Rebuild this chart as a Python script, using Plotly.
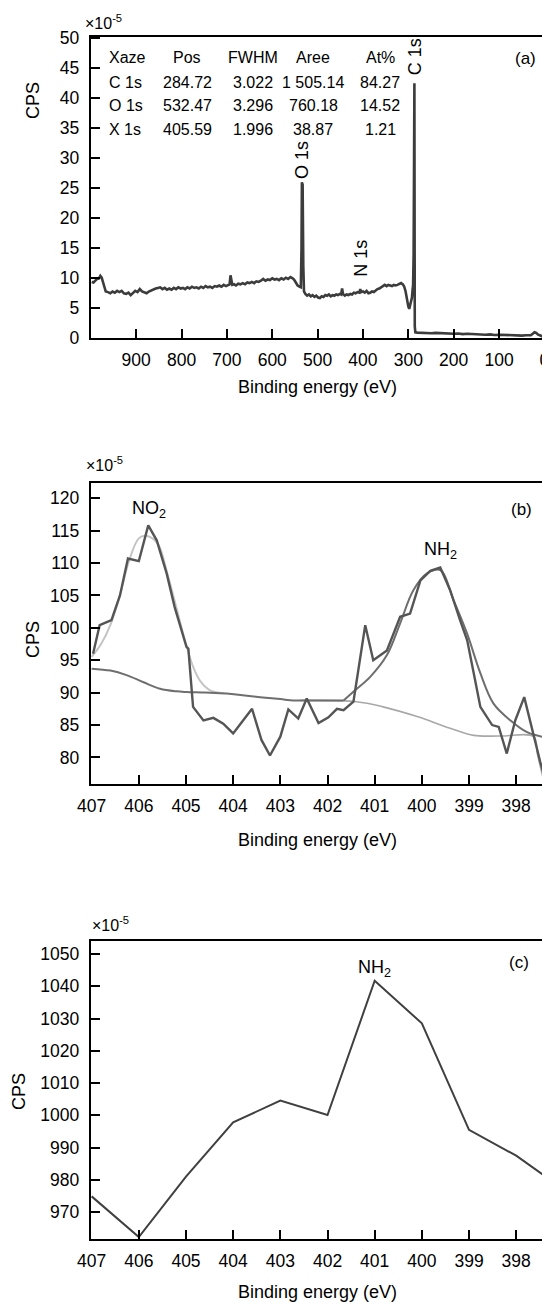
import plotly.graph_objects as go

# page body has an 8px margin: figure drawn from (8, 8) to (550, 1303)
OFF = 8
W, H = 550 - OFF, 1303 - OFF

# ---------------- Panel (a): survey spectrum ----------------
a_energy = [998, 994, 990, 986, 982, 979, 976, 973, 970, 967,
            962, 957, 952, 947, 942, 937, 932, 927, 922, 917, 912, 907, 902, 897, 892, 887, 882, 877,
            872, 867, 862, 857, 852, 847, 842, 837, 832, 827, 822, 817, 812, 807, 802, 797, 792, 787,
            782, 777, 772, 767, 762, 757, 752, 747, 742, 737, 732, 727, 722, 717, 712, 707, 702, 697,
            694, 692, 690, 688, 684, 680, 675, 670, 665, 660, 655, 650, 645, 640, 635, 630, 625, 620,
            615, 610, 605, 600, 595, 590, 585, 580, 575, 570, 565, 560, 555, 552, 548, 544, 540, 537,
            535.5, 534.6, 533, 531.5, 530, 527, 523, 519, 515, 511, 507, 503, 499, 495, 491, 487, 483,
            479, 475, 471, 467, 463, 459, 455, 451, 448, 446, 444, 440, 436, 432, 428, 424, 420, 416,
            412, 408, 406, 404, 400, 396, 392, 388, 384, 380, 376, 372, 368, 364, 360, 356, 352, 348,
            344, 340, 336, 332, 328, 324, 320, 316, 312, 309, 306, 303, 300, 298, 296, 294, 292, 290.5,
            289.5, 288.3, 287.5, 286.6, 285.8, 284.5, 280, 270, 260, 250, 240, 230, 220, 210, 200, 190,
            180, 170, 160, 150, 140, 130, 120, 110, 100, 90, 80, 70, 60, 50, 40, 30, 25, 22, 18, 14,
            10, 5, 1]
a_cps = [9.4, 9.3, 9.6, 9.9, 10.0, 10.4, 10.1, 9.2, 8.2, 7.8,
         7.7, 7.5, 7.8, 7.6, 7.9, 7.7, 7.9, 7.5, 7.4, 7.6, 7.2, 7.5, 7.9, 7.7, 8.2, 7.8, 7.6, 7.5,
         7.8, 8.0, 8.1, 8.3, 8.4, 8.5, 8.2, 8.4, 8.1, 8.3, 8.1, 8.4, 8.2, 8.5, 8.3, 8.4, 8.2, 8.5,
         8.3, 8.6, 8.4, 8.5, 8.3, 8.6, 8.4, 8.7, 8.5, 8.6, 8.4, 8.7, 8.6, 8.8, 8.6, 8.9, 8.7, 8.9,
         9.0, 10.5, 9.6, 8.9, 9.0, 8.8, 9.1, 9.0, 9.2, 9.0, 9.3, 9.2, 9.4, 9.2, 9.5, 9.4, 9.6, 9.9,
         9.6, 9.8, 9.7, 10.0, 9.8, 9.9, 9.7, 10.0, 9.8, 10.1, 9.9, 10.2, 10.0, 9.8, 9.3, 8.8, 8.6, 8.5,
         15.0, 26.0, 25.6, 12.0, 7.8, 7.4, 7.1, 7.3, 7.0, 7.2, 6.9, 7.1, 6.8, 6.7, 7.0, 6.9, 7.2,
         7.1, 7.3, 7.0, 7.2, 7.1, 7.3, 7.2, 7.4, 7.3, 8.3, 7.4, 7.1, 7.3, 7.2, 7.4, 7.3, 7.6, 7.5,
         7.7, 7.6, 8.2, 7.7, 7.8, 7.6, 7.9, 7.5, 7.6, 7.8, 7.7, 8.0, 8.2, 8.3, 8.5, 8.7, 8.9, 8.7,
         8.9, 8.8, 8.7, 8.9, 8.8, 8.9, 9.0, 9.2, 9.0, 8.6, 7.8, 6.4, 5.3, 4.9, 5.4, 6.3, 6.8, 8.2,
         8.8, 14.0, 42.5, 42.5, 2.0, 1.0, 0.95, 0.9, 0.95, 0.85, 0.9, 0.85, 0.8, 0.85, 0.75, 0.8,
         0.7, 0.75, 0.7, 0.65, 0.7, 0.6, 0.65, 0.55, 0.6, 0.55, 0.5, 0.55, 0.5, 0.45, 0.5, 0.5, 0.8, 1.0, 0.9, 0.6,
         0.5, 0.3, 0.2]
a_xticks = [900, 800, 700, 600, 500, 400, 300, 200, 100, 0]
a_yticks = [0, 5, 10, 15, 20, 25, 30, 35, 40, 45, 50]

table_rows = [
    ["Xaze", "Pos", "FWHM", "Aree", "At%"],
    ["C 1s", "284.72", "3.022", "1 505.14", "84.27"],
    ["O 1s", "532.47", "3.296", "760.18", "14.52"],
    ["X 1s", "405.59", "1.996", "38.87", "1.21"],
]

# ---------------- Panel (b): N 1s high resolution ----------------
b_raw_x = [406.97, 406.83, 406.58, 406.4, 406.23, 406.0, 405.8, 405.62, 405.41, 405.24, 404.99, 404.95,
           404.85, 404.63, 404.42, 404.21, 404.0, 403.6, 403.4, 403.22, 403.0, 402.83, 402.62, 402.44,
           402.19, 401.98, 401.8, 401.66, 401.45, 401.2, 401.03, 400.74, 400.46, 400.25, 400.03, 399.82,
           399.61, 399.4, 399.19, 399.04, 398.9, 398.76, 398.51, 398.37, 398.2, 398.02, 397.83, 397.63,
           397.49, 397.42]
b_raw_y = [96.0, 100.4, 101.2, 105.0, 110.7, 110.3, 115.8, 113.5, 108.4, 103.2, 97.05, 96.8,
           87.8, 85.7, 86.1, 85.2, 83.7, 87.5, 82.7, 80.3, 83.2, 87.4, 86.0, 89.1,
           85.3, 86.2, 87.5, 87.3, 88.6, 100.4, 95.0, 96.5, 101.7, 102.2, 107.3, 108.8,
           109.3, 105.8, 101.2, 98.1, 93.0, 87.8, 85.0, 84.7, 80.6, 85.7, 89.3, 83.2,
           79.3, 77.5]
b_no2fit_x = [407.0, 406.8, 406.6, 406.4, 406.2, 406.0, 405.85, 405.6, 405.4, 405.2, 405.0, 404.85,
              404.7, 404.5, 404.2]
b_no2fit_y = [95.5, 97.5, 100.5, 105.0, 110.5, 113.8, 114.2, 113.0, 108.5, 103.0, 97.5, 94.0,
              91.8, 90.4, 89.9]
b_bg_x = [407.0, 406.6, 406.26, 405.9, 405.55, 405.2, 404.99, 404.6, 404.14, 403.8, 403.43, 403.0,
          402.72, 402.44, 402.0, 401.66]
b_bg_y = [93.7, 93.4, 92.7, 91.6, 90.6, 90.2, 90.1, 90.0, 89.85, 89.6, 89.3, 89.0,
          88.8, 88.8, 88.8, 88.8]
b_nh2fit_x = [401.66, 401.41, 401.1, 400.74, 400.46, 400.18, 399.89, 399.61, 399.33, 399.04, 398.76,
              398.48, 398.12, 397.77, 397.45]
b_nh2fit_y = [88.8, 90.4, 92.4, 95.8, 100.7, 105.8, 108.4, 108.9, 104.3, 99.1, 93.0,
              88.3, 85.7, 83.9, 83.2]
b_lowbg_x = [402.58, 401.38, 400.82, 400.1, 399.4, 398.9, 398.33, 397.63, 397.55, 397.42]
b_lowbg_y = [88.8, 88.6, 87.8, 86.3, 84.5, 83.4, 83.3, 83.2, 80.5, 76.5]
b_xticks = [407, 406, 405, 404, 403, 402, 401, 400, 399, 398]
b_yticks = [80, 85, 90, 95, 100, 105, 110, 115, 120]

# ---------------- Panel (c) ----------------
c_x = [407, 406, 405, 404, 403, 402, 401, 400, 399, 398, 397.43]
c_y = [974.9, 962.3, 981.0, 997.8, 1004.6, 1000.1, 1041.7, 1028.5, 995.5, 987.5, 981.6]
c_xticks = [407, 406, 405, 404, 403, 402, 401, 400, 399, 398]
c_yticks = [970, 980, 990, 1000, 1010, 1020, 1030, 1040, 1050]

FONT = "Liberation Sans, Arial, sans-serif"


def px(x):
    return (x - OFF) / W


def py(y):
    return 1 - (y - OFF) / H


fig = go.Figure()

fig.add_trace(go.Scatter(x=a_energy, y=a_cps, mode="lines", xaxis="x", yaxis="y",
                         line=dict(color="#3c3c3c", width=2.6)))

fig.add_trace(go.Scatter(x=b_no2fit_x, y=b_no2fit_y, mode="lines", xaxis="x2", yaxis="y2",
                         line=dict(color="#c4c4c4", width=2, shape="spline")))
fig.add_trace(go.Scatter(x=b_lowbg_x, y=b_lowbg_y, mode="lines", xaxis="x2", yaxis="y2",
                         line=dict(color="#a8a8a8", width=1.6, shape="spline")))
fig.add_trace(go.Scatter(x=b_bg_x, y=b_bg_y, mode="lines", xaxis="x2", yaxis="y2",
                         line=dict(color="#6e6e6e", width=2, shape="spline")))
fig.add_trace(go.Scatter(x=b_nh2fit_x, y=b_nh2fit_y, mode="lines", xaxis="x2", yaxis="y2",
                         line=dict(color="#6e6e6e", width=2, shape="spline")))
fig.add_trace(go.Scatter(x=b_raw_x, y=b_raw_y, mode="lines", xaxis="x2", yaxis="y2",
                         line=dict(color="#555555", width=2.4)))

fig.add_trace(go.Scatter(x=c_x, y=c_y, mode="lines", xaxis="x3", yaxis="y3",
                         line=dict(color="#404040", width=2)))

xdom = [px(90.7), px(544.5)]
doms = {
    "a": [py(338.3), py(36.7)],
    "b": [py(784.0), py(483.3)],
    "c": [py(1239.3), py(940.7)],
}

axis_common = dict(showline=True, linecolor="black", linewidth=2, mirror=True,
                   ticks="inside", ticklen=9, tickwidth=1.6, tickcolor="black",
                   showgrid=False, zeroline=False, automargin=False,
                   tickfont=dict(family=FONT, size=17.5, color="black"))
xaxis_extra = dict(ticklabelstandoff=5)
yaxis_extra = dict(ticklabelstandoff=6)

fig.update_layout(
    template="none",
    width=W, height=H, margin=dict(l=0, r=0, t=0, b=0, pad=0, autoexpand=False),
    paper_bgcolor="white", plot_bgcolor="white", showlegend=False,
    font=dict(family=FONT, color="black"),
    xaxis=dict(domain=xdom, anchor="y", range=[1000.2, -0.2], tickvals=a_xticks, **axis_common, **xaxis_extra),
    yaxis=dict(domain=doms["a"], anchor="x", range=[0, 50.27], tickvals=a_yticks, **axis_common, **yaxis_extra),
    xaxis2=dict(domain=xdom, anchor="y2", range=[407.02, 397.4], tickvals=b_xticks, **axis_common, **xaxis_extra),
    yaxis2=dict(domain=doms["b"], anchor="x2", range=[75.9, 122.3], tickvals=b_yticks, **axis_common, **yaxis_extra),
    xaxis3=dict(domain=xdom, anchor="y3", range=[407.02, 397.4], tickvals=c_xticks, **axis_common, **xaxis_extra),
    yaxis3=dict(domain=doms["c"], anchor="x3", range=[961.6, 1054.1], tickvals=c_yticks, **axis_common, **yaxis_extra),
)

ann = []


def add_text(text, x, y, size=18, xanchor="center", yanchor="middle", angle=0):
    ann.append(dict(text=text, x=px(x), y=py(y), xref="paper", yref="paper", showarrow=False,
                    xanchor=xanchor, yanchor=yanchor, textangle=angle,
                    font=dict(family=FONT, size=size, color="black")))


# axis titles
for yy in (387, 840, 1292):
    add_text("Binding energy (eV)", 317, yy, size=18)
add_text("CPS", 33, 101, size=18, angle=-90)
add_text("CPS", 33, 640, size=18, angle=-90)
add_text("CPS", 19, 1092, size=18, angle=-90)

# exponent labels
add_text("×10<sup>-5</sup>", 83, 22, size=16, xanchor="left")
add_text("×10<sup>-5</sup>", 84, 464, size=16, xanchor="left")
add_text("×10<sup>-5</sup>", 90, 924, size=16, xanchor="left")

# panel tags
add_text("(a)", 525, 58, size=17)
add_text("(b)", 521, 509, size=17)
add_text("(c)", 519, 962, size=17)

# table in panel (a)
col_x = [107, 187, 253, 313, 380]
row_y = [57, 82, 105, 129]
for r, row in enumerate(table_rows):
    for c, cell in enumerate(row):
        if c == 0:
            add_text(cell, col_x[c], row_y[r], size=16, xanchor="left")
        else:
            add_text(cell, col_x[c], row_y[r], size=16)

fig.update_layout(annotations=ann)

# peak labels in data coordinates
fig.add_annotation(text="O 1s", x=534.6, y=29.7, xref="x", yref="y", showarrow=False, textangle=-90,
                   font=dict(family=FONT, size=18, color="black"))
fig.add_annotation(text="N 1s", x=406, y=13.3, xref="x", yref="y", showarrow=False, textangle=-90,
                   font=dict(family=FONT, size=18, color="black"))
fig.add_annotation(text="C 1s", x=285.5, y=47.0, xref="x", yref="y", showarrow=False, textangle=-90,
                   font=dict(family=FONT, size=18, color="black"))
fig.add_annotation(text="NO<sub>2</sub>", x=405.78, y=118.3, xref="x2", yref="y2", showarrow=False,
                   font=dict(family=FONT, size=18, color="black"))
fig.add_annotation(text="NH<sub>2</sub>", x=399.6, y=112.0, xref="x2", yref="y2", showarrow=False,
                   font=dict(family=FONT, size=18, color="black"))
fig.add_annotation(text="NH<sub>2</sub>", x=401.0, y=1045.5, xref="x3", yref="y3", showarrow=False,
                   font=dict(family=FONT, size=18, color="black"))

fig.write_html("out.html")
